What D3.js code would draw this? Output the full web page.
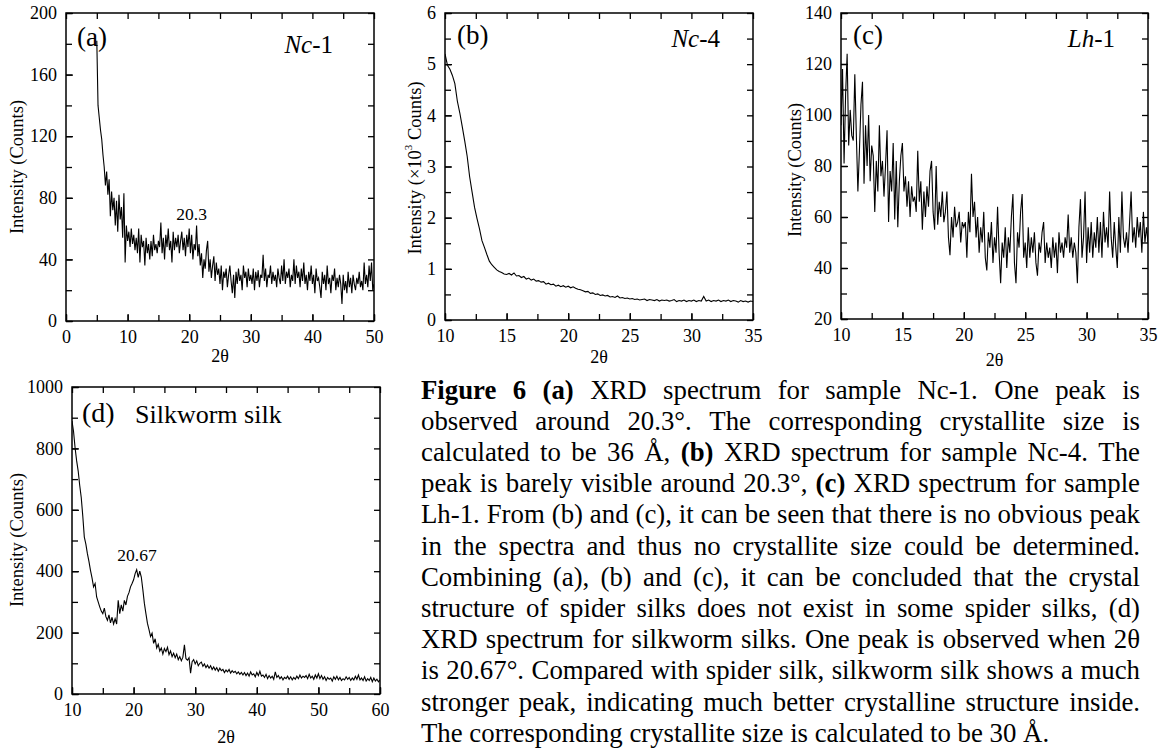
<!DOCTYPE html>
<html><head><meta charset="utf-8">
<script src="https://cdn.jsdelivr.net/npm/d3@7"></script>
<style>html,body{margin:0;padding:0;background:#fff;} svg{display:block;}</style>
</head><body>
<svg id="chart" width="1159" height="751"></svg>
<script>
// ---------------- DATA ----------------
// (a) Nc-1 : scan start / step (degrees 2θ) and counts
const aStart = 5, aStep = 0.2;
const aCounts = [
 182,140,132,124,118, 108,100,88,97,82, 92,68,84,72,80, 62,78,58,82,66, 74,54,83,38,62,
 52,58,48,60,50, 56,46,54,44,60, 38,56,48,52,36, 54,44,50,40,52, 42,56,46,50,44,
 52,48,64,44,54, 40,56,48,60,46, 52,38,58,46,54, 48,56,44,52,58, 46,54,42,56,48,
 60,44,56,40,50, 46,62,42,50,36, 44,28,40,34,46, 52,32,40,28,36, 42,26,38,30,34,
 24,36,20,32,28, 34,22,30,36,26, 18,30,15,32,24, 34,26,30,20,36, 28,32,22,34,26,
 30,24,34,20,32, 26,33,22,30,28, 43,26,34,22,30, 28,36,24,32,26, 30,22,34,28,24,
 36,26,40,24,32, 28,34,22,30,26, 40,24,36,28,32, 22,34,26,38,24, 30,20,32,26,36,
 24,30,18,34,26, 28,22,15,32,24, 30,20,36,24,28, 18,30,26,34,20, 28,22,30,24,11,
 30,20,26,18,32, 22,28,18,30,24, 20,28,24,32,22, 26,20,38,24,30, 22,36,26,38,20,
 24];
const aXTicks = [0,10,20,30,40,50];
const aYTicks = [0,40,80,120,160,200];

// (b) Nc-4 : intensity in 10^3 counts
const bStart = 10, bStep = 0.2;
const bCounts = [
 5.20,4.98,4.90,4.78,4.62, 4.28,4.05,3.78,3.50,3.20, 2.80,2.50,2.20,1.98,1.78,
 1.55,1.42,1.28,1.15,1.08, 1.03,0.98,0.95,0.93,0.90, 0.89,0.91,0.88,0.92,0.86,
 0.87,0.83,0.85,0.80,0.82, 0.78,0.80,0.76,0.77,0.74, 0.75,0.70,0.72,0.69,0.70,
 0.66,0.68,0.65,0.67,0.64, 0.66,0.63,0.65,0.62,0.60, 0.59,0.57,0.55,0.56,0.52,
 0.53,0.50,0.51,0.48,0.49, 0.47,0.48,0.45,0.46,0.44, 0.47,0.43,0.44,0.42,0.43,
 0.41,0.42,0.40,0.41,0.39, 0.40,0.41,0.38,0.40,0.39, 0.38,0.40,0.37,0.39,0.38,
 0.39,0.37,0.38,0.40,0.36, 0.38,0.37,0.39,0.36,0.38, 0.37,0.39,0.36,0.38,0.37,
 0.46,0.37,0.39,0.36,0.38, 0.37,0.39,0.36,0.38,0.37, 0.39,0.36,0.38,0.37,0.35,
 0.38,0.36,0.37,0.35,0.37, 0.36];
const bXTicks = [10,15,20,25,30,35];
const bYTicks = [0,1,2,3,4,5,6];

// (c) Lh-1
const cStart = 10, cStep = 0.125;
const cCounts = [
 96,118,81,108,124,88,102,92,  90,116,92,70,86,104,113,73,  96,80,100,74,88,84,62,82,
 70,96,76,82,68,80,94,58,      78,70,89,59,82,56,74,84,     89,70,76,64,74,60,72,66,
 68,62,86,66,74,55,70,60,      72,64,78,82,62,55,80,57,     66,60,70,58,62,70,52,45,
 60,52,64,56,58,62,50,58,      56,58,44,62,54,77,60,66,     52,60,46,56,50,62,44,39,
 54,48,58,42,52,46,64,46,      34,50,44,56,40,52,46,60,     69,42,34,54,48,62,69,44,
 50,40,56,44,52,46,54,42,      37,50,46,54,58,42,50,44,     48,40,52,44,50,38,54,46,
 50,44,52,48,61,46,52,44,      50,46,34,56,67,44,52,70,     42,56,46,58,44,54,48,60,
 46,58,44,62,50,56,48,70,      52,44,58,48,40,60,46,70,     52,48,54,46,58,70,50,56,
 48,60,52,58,46,62,50,56,      50];
const cXTicks = [10,15,20,25,30,35];
const cYTicks = [20,40,60,80,100,120,140];

// (d) Silkworm silk
const dStart = 10, dStep = 0.25;
const dCounts = [
 889,855,802,760, 727,680,640,580, 511,488,457,432, 403,378,349,360, 316,300,284,270,
 262,280,252,240, 258,232,250,228, 245,228,305,262, 290,270,305,290, 318,330,349,360,
 372,392,405,380, 400,381,340,295, 262,230,210,187, 198,165,180,150, 162,140,150,130,
 148,138,152,128, 140,122,133,118, 130,112,122,108, 120,160,115,110, 118,68,105,112,
 98,108,92,100, 104,90,98,86, 94,84,92,80, 88,78,86,74, 84,76,80,70,
 78,72,80,68, 76,70,74,66, 72,64,70,62, 70,60,68,58, 72,62,66,56,
 70,60,74,58, 62,54,64,50, 60,52,58,48, 72,54,60,50, 56,46,54,50,
 58,48,56,46, 54,48,58,50, 62,52,58,54, 60,50,64,52, 58,48,62,52,
 66,50,60,48, 56,44,54,48, 52,42,56,48, 58,46,54,44, 50,46,56,48,
 54,44,52,46, 58,48,62,46, 52,44,56,42, 50,44,54,40, 52,42,48,40,
 46];
const dXTicks = [10,20,30,40,50,60];
const dYTicks = [0,200,400,600,800,1000];

const captionLines = [
 "*Figure* *6* *(a)* XRD spectrum for sample Nc-1. One peak is",
 "observed around 20.3°. The corresponding crystallite size is",
 "calculated to be 36 Å, *(b)* XRD spectrum for sample Nc-4. The",
 "peak is barely visible around 20.3°, *(c)* XRD spectrum for sample",
 "Lh-1. From (b) and (c), it can be seen that there is no obvious peak",
 "in the spectra and thus no crystallite size could be determined.",
 "Combining (a), (b) and (c), it can be concluded that the crystal",
 "structure of spider silks does not exist in some spider silks, (d)",
 "XRD spectrum for silkworm silks. One peak is observed when 2θ",
 "is 20.67°. Compared with spider silk, silkworm silk shows a much",
 "stronger peak, indicating much better crystalline structure inside.",
 "The corresponding crystallite size is calculated to be 30 Å."
];

// ---------------- DRAW ----------------
const SERIF = "'Liberation Serif','Times New Roman',Times,serif";
const svg = d3.select('#chart');

function drawPanel(p) {
  const x = d3.scaleLinear().domain(p.xDomain).range([p.left, p.right]);
  const y = d3.scaleLinear().domain(p.yDomain).range([p.bottom, p.top]);
  const g = svg.append('g');
  const pts = p.counts.map((c, i) => [p.start + i * p.step, c]);

  g.append('clipPath').attr('id', 'clip' + p.id).append('rect')
    .attr('x', p.left).attr('y', p.top).attr('width', p.right - p.left).attr('height', p.bottom - p.top);
  g.append('path').datum(pts)
    .attr('d', d3.line().x(d => x(d[0])).y(d => y(d[1])))
    .attr('fill', 'none').attr('stroke', '#000').attr('stroke-width', 1.1)
    .attr('stroke-linejoin', 'miter').attr('clip-path', `url(#clip${p.id})`);

  const xMinor = d3.range(p.xDomain[0], p.xDomain[1] + 1e-9, p.xMinor);
  const yMinor = d3.range(p.yDomain[0], p.yDomain[1] + 1e-9, p.yMinor);
  const fmt = t => String(t);

  function styleAxis(sel) {
    sel.select('.domain').remove();
    sel.attr('font-family', SERIF).attr('font-size', 18);
    sel.selectAll('line').attr('stroke', '#000').attr('stroke-width', 1.3);
    sel.selectAll('text').attr('fill', '#000');
  }
  // labelled axes
  g.append('g').attr('transform', `translate(0,${p.bottom})`)
    .call(d3.axisBottom(x).tickValues(p.xTicks).tickFormat(fmt).tickSize(-7).tickSizeOuter(0).tickPadding(9)).call(styleAxis);
  g.append('g').attr('transform', `translate(${p.left},0)`)
    .call(d3.axisLeft(y).tickValues(p.yTicks).tickFormat(fmt).tickSize(-7).tickSizeOuter(0).tickPadding(9)).call(styleAxis);
  // mirrored axes
  g.append('g').attr('transform', `translate(0,${p.top})`)
    .call(d3.axisTop(x).tickValues(xMinor).tickFormat('').tickSize(-6).tickSizeOuter(0)).call(styleAxis);
  g.append('g').attr('transform', `translate(${p.right},0)`)
    .call(d3.axisRight(y).tickValues(yMinor).tickFormat('').tickSize(-6).tickSizeOuter(0)).call(styleAxis);
  // minor ticks on labelled sides
  g.append('g').attr('transform', `translate(0,${p.bottom})`)
    .call(d3.axisBottom(x).tickValues(xMinor).tickFormat('').tickSize(-6).tickSizeOuter(0)).call(styleAxis);
  g.append('g').attr('transform', `translate(${p.left},0)`)
    .call(d3.axisLeft(y).tickValues(yMinor).tickFormat('').tickSize(-6).tickSizeOuter(0)).call(styleAxis);

  g.append('rect').attr('x', p.left).attr('y', p.top)
    .attr('width', p.right - p.left).attr('height', p.bottom - p.top)
    .attr('fill', 'none').attr('stroke', '#000').attr('stroke-width', 1.5);

  // axis titles
  g.append('text').attr('x', (p.left + p.right) / 2).attr('y', p.xTitleY)
    .attr('text-anchor', 'middle').attr('font-family', SERIF).attr('font-size', 18).text('2θ');
  const yt = g.append('text')
    .attr('transform', `translate(${p.yTitleX},${p.yTitleC}) rotate(-90)`)
    .attr('text-anchor', 'middle').attr('dominant-baseline', 'central')
    .attr('font-family', SERIF).attr('font-size', 18.5);
  if (p.yTitleSup) {
    yt.append('tspan').text('Intensity (×10');
    yt.append('tspan').attr('font-size', 11).attr('dy', -7).text('3');
    yt.append('tspan').attr('dy', 7).text(' Counts)');
  } else {
    yt.text('Intensity (Counts)');
  }
  // panel letter
  g.append('text').attr('x', p.letterX).attr('y', p.letterY)
    .attr('font-family', SERIF).attr('font-size', p.letterSize).text(p.letter);
  // sample name
  const nm = g.append('text').attr('x', p.nameX).attr('y', p.nameY)
    .attr('text-anchor', p.nameAnchor).attr('font-family', SERIF).attr('font-size', p.nameSize);
  p.name.forEach(s => nm.append('tspan').attr('font-style', s.it ? 'italic' : null).text(s.t));
  // peak annotation
  if (p.peak) {
    g.append('text').attr('x', x(p.peak[0])).attr('y', y(p.peak[1]))
      .attr('text-anchor', 'middle').attr('font-family', SERIF).attr('font-size', 17.5).text(p.peak[2]);
  }
}

drawPanel({id: 'a', left: 66, right: 374, top: 13, bottom: 321,
  xDomain: [0, 50], yDomain: [0, 200], xMinor: 5, yMinor: 20,
  xTicks: aXTicks, yTicks: aYTicks, start: aStart, step: aStep, counts: aCounts,
  xTitleY: 362, yTitleX: 17, yTitleC: 167,
  letter: '(a)', letterX: 77, letterY: 46, letterSize: 27,
  name: [{t: 'Nc', it: true}, {t: '-1'}], nameX: 333, nameY: 53, nameAnchor: 'end', nameSize: 25,
  peak: [20.4, 65.5, '20.3']});

drawPanel({id: 'b', left: 445, right: 753, top: 13, bottom: 320,
  xDomain: [10, 35], yDomain: [0, 6], xMinor: 2.5, yMinor: 0.5,
  xTicks: bXTicks, yTicks: bYTicks, start: bStart, step: bStep, counts: bCounts,
  xTitleY: 363, yTitleX: 415, yTitleC: 168, yTitleSup: true,
  letter: '(b)', letterX: 457, letterY: 44, letterSize: 27,
  name: [{t: 'Nc', it: true}, {t: '-4'}], nameX: 720, nameY: 47, nameAnchor: 'end', nameSize: 25,});

drawPanel({id: 'c', left: 841, right: 1148, top: 13, bottom: 319,
  xDomain: [10, 35], yDomain: [20, 140], xMinor: 2.5, yMinor: 10,
  xTicks: cXTicks, yTicks: cYTicks, start: cStart, step: cStep, counts: cCounts,
  xTitleY: 366, yTitleX: 795, yTitleC: 170,
  letter: '(c)', letterX: 853, letterY: 44, letterSize: 27,
  name: [{t: 'Lh', it: true}, {t: '-1'}], nameX: 1115, nameY: 47, nameAnchor: 'end', nameSize: 25});

drawPanel({id: 'd', left: 72, right: 380, top: 387, bottom: 694,
  xDomain: [10, 60], yDomain: [0, 1000], xMinor: 5, yMinor: 100,
  xTicks: dXTicks, yTicks: dYTicks, start: dStart, step: dStep, counts: dCounts,
  xTitleY: 743, yTitleX: 17, yTitleC: 540,
  letter: '(d)', letterX: 82, letterY: 422, letterSize: 28,
  name: [{t: 'Silkworm silk'}], nameX: 135, nameY: 423, nameAnchor: 'start', nameSize: 26,
  peak: [20.55, 433, '20.67']});

// caption, justified
const capLeft = 421, capRight = 1140, capTop = 398.5, capLH = 31.2, capSize = 26.8;
captionLines.forEach((ln, i) => {
  const words = ln.split(' ').map(w => ({bold: w.startsWith('*'), t: w.replace(/\*/g, '')}));
  const t = svg.append('text').attr('y', capTop + i * capLH)
    .attr('font-family', SERIF).attr('font-size', capSize).attr('fill', '#000');
  const spans = t.selectAll('tspan').data(words).join('tspan')
    .attr('font-weight', d => d.bold ? 'bold' : null).text(d => d.t);
  const widths = spans.nodes().map(n => n.getComputedTextLength());
  const total = d3.sum(widths);
  const last = i === captionLines.length - 1;
  const gap = last ? capSize * 0.25 : (capRight - capLeft - total) / (words.length - 1);
  let cx = capLeft;
  spans.attr('x', (d, j) => { const v = cx; cx += widths[j] + gap; return v; });
});
</script>
</body></html>
